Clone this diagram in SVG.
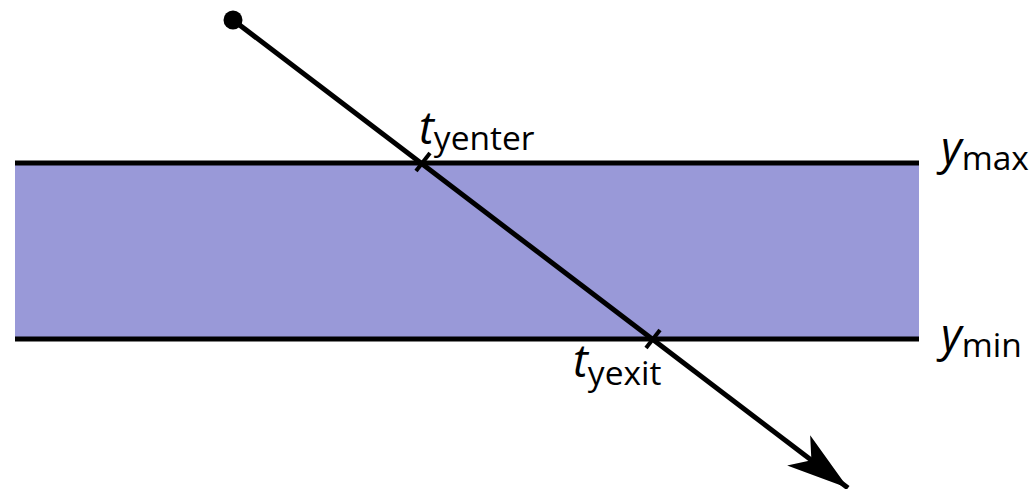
<svg xmlns="http://www.w3.org/2000/svg" width="1036" height="489" viewBox="0 0 1036 489">
<style>
.main{font-family:"Open Sans","Noto Sans",sans-serif;font-style:italic;font-size:45px;fill:#000}
.sub{font-family:"Open Sans","Noto Sans",sans-serif;font-style:normal;font-size:33.5px;fill:#000}
.edge{stroke:#000;stroke-width:5;fill:none}
.ray{stroke:#000;stroke-width:5;fill:none}
.tick{stroke:#000;stroke-width:4}
</style>
<defs>
<marker id="arrow" markerUnits="userSpaceOnUse" markerWidth="80" markerHeight="60" refX="0" refY="0" viewBox="-70 -30 80 60" orient="auto" overflow="visible">
<path d="M0,0 L-62,-19 L-46,0 L-62,19 Z" fill="#000"/>
</marker>
</defs>
<g id="band">
<rect x="15" y="163" width="904" height="176" fill="#9999d8"/>
<line class="edge" x1="15" y1="163" x2="919" y2="163"/>
<line class="edge" x1="15" y1="339" x2="919" y2="339"/>
</g>
<g id="connectors">
<line class="ray" x1="233" y1="20" x2="848" y2="488" marker-end="url(#arrow)"/>
<circle cx="233" cy="20" r="9.5" fill="#000"/>
</g>
<g id="enter">
<line class="tick" x1="416" y1="171" x2="430" y2="153"/>
<text x="419" y="144"><tspan class="main">t</tspan><tspan class="sub" dy="6">yenter</tspan></text>
</g>
<g id="exit">
<line class="tick" x1="646" y1="348" x2="660" y2="330"/>
<text x="573" y="377"><tspan class="main">t</tspan><tspan class="sub" dy="8">yexit</tspan></text>
</g>
<g id="ymax">
<text x="941" y="164"><tspan class="main">y</tspan><tspan class="sub" dy="6">max</tspan></text>
</g>
<g id="ymin">
<text x="941" y="351"><tspan class="main">y</tspan><tspan class="sub" dy="6">min</tspan></text>
</g>
</svg>
